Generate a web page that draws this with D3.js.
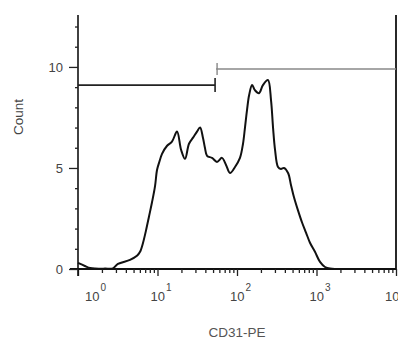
<!DOCTYPE html>
<html><head><meta charset="utf-8">
<script src="https://cdn.jsdelivr.net/npm/d3@7"></script>
<style>
html,body{margin:0;padding:0;background:#fff;}
svg{display:block;font-family:"Liberation Sans",Arial,sans-serif;}
</style></head>
<body><svg id="c" width="398" height="340"></svg>
<script>
// Histogram data: CD31-PE intensity (x) vs Count (y)
const cd31 = [1, 1.22, 1.42, 1.64, 2.19, 2.75, 3.18, 4.51, 5.52, 6.03, 6.58, 7.16, 7.82, 8.53, 9.31, 9.86,
  10.45, 11.4, 13.2, 15.2, 17.6, 19.8, 22.2, 24.9, 28.0, 31.4, 34.3, 37.3, 39.5, 42.0, 48.5, 56.0, 64.7,
  72.8, 81.7, 94.4, 109, 119, 126, 134, 142, 155, 168, 189, 212, 245, 268, 284, 301, 328, 357, 390, 439,
  478, 521, 585, 658, 738, 828, 957, 1107, 1279, 1479, 3524, 10000];
const count = [0.3, 0.15, 0.05, 0.02, 0.02, 0.03, 0.25, 0.45, 0.65, 0.85, 1.3, 1.9, 2.6, 3.3, 4.1, 4.9,
  5.25, 5.7, 6.1, 6.3, 6.8, 5.9, 5.45, 6.2, 6.5, 6.8, 7.0, 6.5, 6.0, 5.6, 5.5, 5.3, 5.5,
  5.15, 4.75, 5.05, 5.5, 6.2, 7.0, 7.9, 8.6, 9.1, 8.85, 8.7, 9.1, 9.35, 8.35, 7.0, 5.9, 5.05, 4.95, 5.0, 4.75,
  4.15, 3.55, 2.9, 2.3, 1.8, 1.3, 0.85, 0.35, 0.1, 0.02, 0.0, 0.0];
const yMajor = [0, 5, 10];
const yMinor = [1, 2, 3, 4, 6, 7, 8, 9, 11, 12];
const xMajorExp = [0, 1, 2, 3, 4];
// gates: [from, to, level]
const gateLeft = [1, 53, 9.1];
const gateRight = [53, 10000, 9.9];

const svg = d3.select("#c");
const x = d3.scaleLog().domain([1, 10000]).range([78, 396]);
const y = d3.scaleLinear().domain([0, 12.57]).range([269, 15]);

const xMinor = [];
for (let e = 0; e < 4; e++) for (let k = 2; k <= 9; k++) xMinor.push(k * Math.pow(10, e));

// x axis
const gx = svg.append("g").attr("transform", `translate(0,${y(0)})`);
gx.call(d3.axisBottom(x).tickValues(xMajorExp.map(e => Math.pow(10, e))).tickFormat("").tickSize(7).tickSizeOuter(0));
gx.append("g").call(d3.axisBottom(x).tickValues(xMinor).tickFormat("").tickSize(4).tickSizeOuter(0))
  .select(".domain").remove();
gx.selectAll(".domain").attr("d", `M70,0H${x(10000)}`);
gx.selectAll("line").attr("stroke", "#222").attr("stroke-width", 1.3);
gx.selectAll(".domain").attr("stroke", "#111").attr("stroke-width", 1.8);

// x tick labels 10^n
const labelOffset = [7, -7, -7, -7, -11];
xMajorExp.forEach((e, i) => {
  const t = svg.append("text").attr("x", x(Math.pow(10, e)) + labelOffset[i]).attr("y", 301)
    .attr("fill", "#444").attr("font-size", 13);
  t.append("tspan").text("10");
  t.append("tspan").attr("dy", -10).attr("dx", 1).attr("font-size", 10).text(e);
});

// y axis
const gy = svg.append("g").attr("transform", `translate(${x(1)},0)`);
gy.call(d3.axisLeft(y).tickValues(yMajor).tickFormat("").tickSize(9).tickSizeOuter(0));
gy.append("g").call(d3.axisLeft(y).tickValues(yMinor).tickFormat("").tickSize(3).tickSizeOuter(0))
  .select(".domain").remove();
gy.selectAll(".domain").attr("d", `M0,${y(12.57)}V276`).attr("stroke", "#111").attr("stroke-width", 1.6);
gy.selectAll("line").attr("stroke", "#222").attr("stroke-width", 1.3);
yMajor.forEach(v => {
  svg.append("text").attr("x", 63).attr("y", y(v)).attr("dy", "0.36em").attr("text-anchor", "end")
    .attr("fill", "#444").attr("font-size", 13).text(v);
});

// right border
svg.append("line").attr("x1", x(10000)).attr("x2", x(10000)).attr("y1", y(12.57)).attr("y2", y(0))
  .attr("stroke", "#111").attr("stroke-width", 1.8);

// axis titles
svg.append("text").attr("x", 237).attr("y", 337).attr("text-anchor", "middle").attr("fill", "#555")
  .attr("font-size", 13.5).text("CD31-PE");
svg.append("text").attr("transform", "translate(23,117) rotate(-90)").attr("text-anchor", "middle")
  .attr("fill", "#444").attr("font-size", 13.5).text("Count");

// histogram
const line = d3.line().x((d, i) => x(cd31[i])).y(d => y(d)).curve(d3.curveCatmullRom.alpha(0.5));
svg.append("path").attr("d", line(count)).attr("fill", "none").attr("stroke", "#111")
  .attr("stroke-width", 2).attr("stroke-linejoin", "round");

// gates
function gate(g, color, w) {
  const yy = y(g[2]);
  svg.append("line").attr("x1", x(g[0])).attr("x2", x(g[1])).attr("y1", yy).attr("y2", yy)
    .attr("stroke", color).attr("stroke-width", w);
}
gate(gateLeft, "#222", 1.8);
svg.append("line").attr("x1", x(gateLeft[1])).attr("x2", x(gateLeft[1])).attr("y1", y(gateLeft[2]) - 7)
  .attr("y2", y(gateLeft[2]) + 7).attr("stroke", "#222").attr("stroke-width", 1.6);
gate([gateRight[0] * 1.03, gateRight[1], gateRight[2]], "#888", 1.4);
svg.append("line").attr("x1", x(gateRight[0]) + 2).attr("x2", x(gateRight[0]) + 2).attr("y1", y(gateRight[2]) - 6)
  .attr("y2", y(gateRight[2]) + 6).attr("stroke", "#888").attr("stroke-width", 1.4);
</script></body></html>
